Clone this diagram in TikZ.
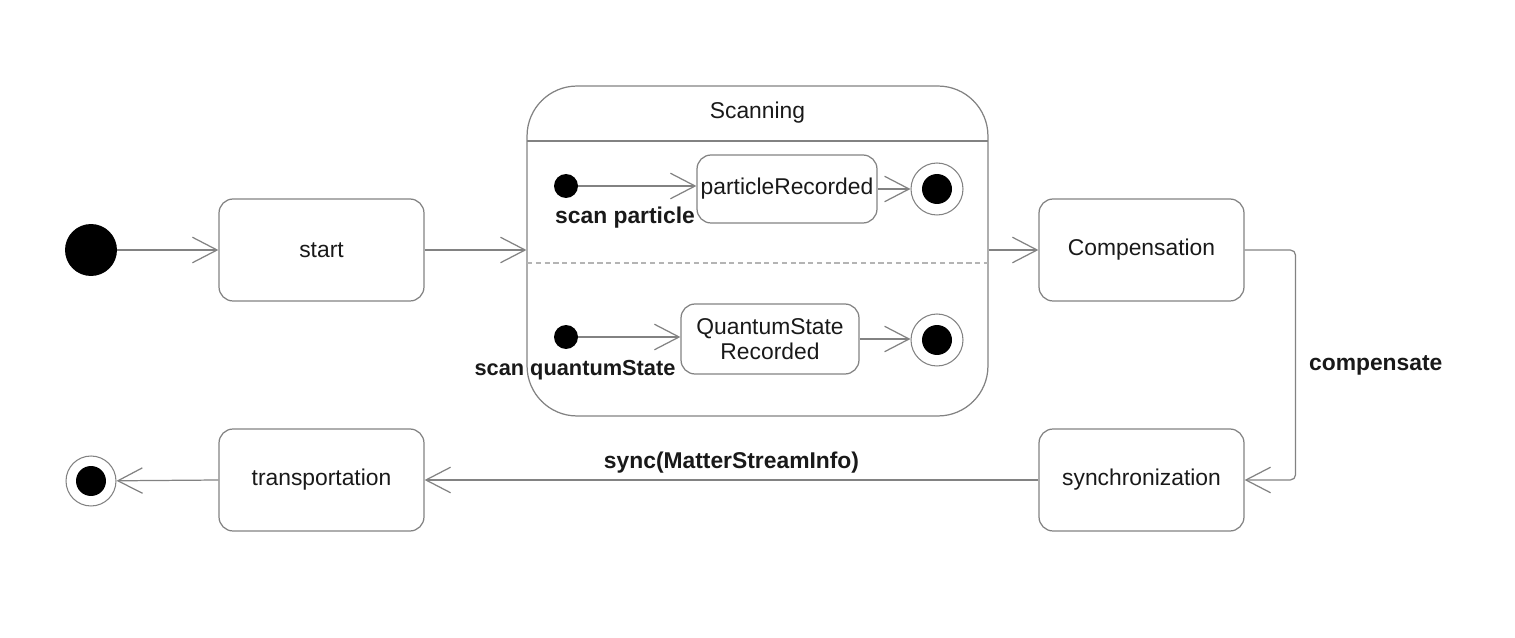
\documentclass[tikz,border=0pt]{standalone}
\usepackage{fontspec}
\setmainfont{Liberation Sans}
\usetikzlibrary{arrows.meta}
\definecolor{lc}{RGB}{130,130,130}
\definecolor{tc}{RGB}{25,25,25}
\begin{document}
\begin{tikzpicture}[x=0.02cm,y=-0.02cm,
  font=\fontsize{13}{15}\selectfont, text=tc,
  statebox/.style={draw=lc, line width=0.7pt, rounded corners=8pt, minimum width=4.1cm, minimum height=2.04cm, inner sep=0pt, align=center},
  innerbox/.style={draw=lc, line width=0.7pt, rounded corners=8pt, inner sep=0pt, align=center},
  initdot/.style={circle, fill=black, inner sep=0pt},
  finaldot/.style={circle, draw=lc, line width=0.6pt, inner sep=0pt, minimum size=1.04cm,
     path picture={\fill[black] (path picture bounding box.center) circle (0.3cm);}},
  arr/.style={draw=lc, line width=0.7pt, -{Straight Barb[length=14pt, width=14.5pt, line width=0.7pt]}},
  lbl/.style={font=\fontsize{13}{15}\selectfont\bfseries, text=tc}
]
\useasboundingbox (0,0) rectangle (1515,638);

% top row
\node[initdot, minimum size=1.04cm] (init) at (91,250) {};
\node[statebox] (start) at (321.5,250) {start};
\node[draw=lc, line width=0.7pt, rounded corners=1cm, minimum width=9.22cm, minimum height=6.6cm, inner sep=0pt] (scan) at (757.5,251) {};
\node (scantitle) at (757.5,113) {Scanning};
\draw[lc, line width=0.7pt] (527,141) -- (988,141);
\draw[lc!60, line width=0.6pt, dash pattern=on 3pt off 2pt] (527,263) -- (988,263);
\node[statebox] (comp) at (1141.5,250) {Compensation};

% region 1
\node[initdot, minimum size=0.48cm] (i1) at (566,186) {};
\node[innerbox, minimum width=3.6cm, minimum height=1.36cm] (pr) at (787,189) {particleRecorded};
\node[finaldot] (f1) at (937,189) {};
\node[lbl] at (625,218) {scan particle};
\draw[arr] (i1) -- (i1 -| pr.west);
\draw[arr] (pr.east) -- (f1);

% region 2
\node[initdot, minimum size=0.48cm] (i2) at (566,337) {};
\node[innerbox, minimum width=3.56cm, minimum height=1.4cm] (qs) at (770,339) {QuantumState\\[-1pt]Recorded};
\node[finaldot] (f2) at (937,340) {};
\node[lbl, font=\fontsize{12.4}{15}\selectfont\bfseries] at (575,370) {scan quantumState};
\draw[arr] (i2) -- (i2 -| qs.west);
\draw[arr] (qs.east) -- (qs.east -| f2.west);

% bottom row
\node[finaldot, minimum size=1.0cm] (fin) at (91,481) {};
\node[statebox] (trans) at (321.5,480) {transportation};
\node[statebox] (sync) at (1141.5,480) {synchronization};

% connectors
\draw[arr] (init) -- (start);
\draw[arr] (start.east) -- (start.east -| scan.west);
\draw[arr] (scan.east |- comp.west) -- (comp.west);
\draw[arr, rounded corners=3pt] (comp.east) -- ++(51,0) |- node[pos=0.25, right=4pt, lbl] {compensate} (sync.east);
\draw[arr] (sync.west) -- node[above=0pt, lbl] {sync(MatterStreamInfo)} (trans.east);
\draw[arr] (trans.west) -- (fin);
\end{tikzpicture}
\end{document}
